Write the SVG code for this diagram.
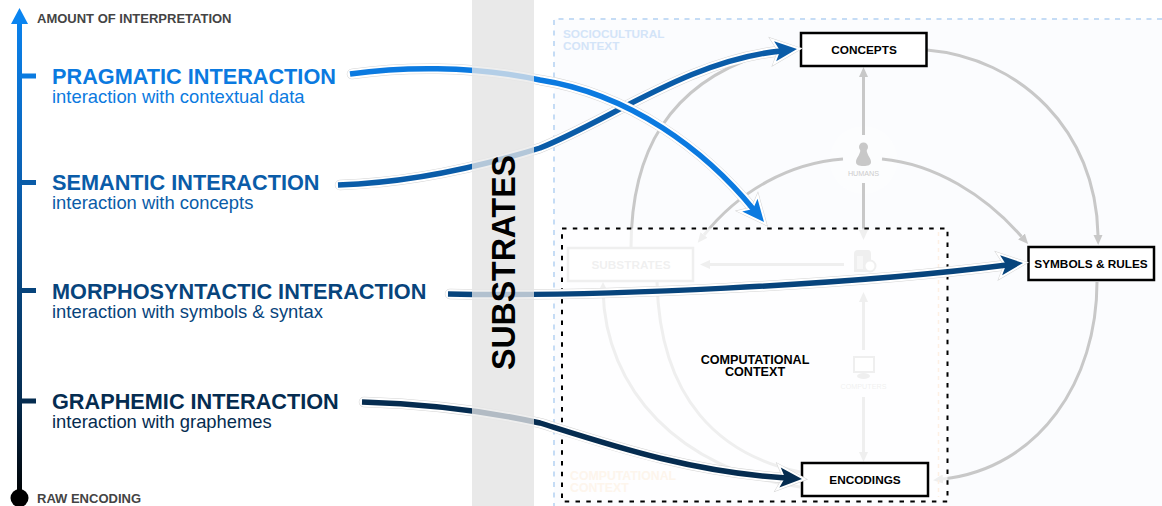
<svg xmlns="http://www.w3.org/2000/svg" xmlns:xlink="http://www.w3.org/1999/xlink" width="1162" height="506" viewBox="0 0 1162 506">
<defs>
<linearGradient id="axisGrad" gradientUnits="userSpaceOnUse" x1="0" y1="8" x2="0" y2="498">
<stop offset="0" stop-color="#0a84f0"/><stop offset="0.36" stop-color="#0a5fb0"/><stop offset="0.58" stop-color="#07447c"/><stop offset="0.8" stop-color="#052c50"/><stop offset="1" stop-color="#000"/>
</linearGradient>
<marker id="tri" viewBox="0 0 10 10" refX="0" refY="5" markerWidth="10" markerHeight="10" markerUnits="userSpaceOnUse" orient="auto"><path d="M0,0.5 L10,5 L0,9.5Z" fill="#c8c8c8"/></marker>
<path id="head" d="M0,0 L-22,-10 L-17,0 L-22,10Z"/>
</defs>
<style>
text{font-family:"Liberation Sans",Arial,sans-serif}
.title{font-size:21.7px;font-weight:700}
.sub{font-size:18.4px}
.axis{font-size:13px;font-weight:700;fill:#444}
.gray{fill:none;stroke:#c8c8c8;stroke-width:3}
.box{fill:#fff;stroke:#000;stroke-width:2.5}
.lbl{font-size:11.8px;font-weight:700;fill:#000;text-anchor:middle}
.h1{fill:none;stroke:#d4d4d4;stroke-width:10.4;stroke-linecap:round}
.h2{fill:none;stroke:#fff;stroke-width:9.4;stroke-linecap:round}
.c{fill:none;stroke-width:5.5}
.hh1{fill:#d4d4d4;stroke:#d4d4d4;stroke-width:5}
.hh2{fill:#fff;stroke:#fff;stroke-width:4}
.tiny{font-size:7.2px;text-anchor:middle}
</style>
<rect width="1162" height="506" fill="#fff"/>
<g id="axis">
<rect x="17" y="20" width="5" height="478" fill="url(#axisGrad)"/>
<path d="M19.5,8 L28,24 L11,24Z" fill="#0a84f0"/>
<rect x="20" y="73.500" width="16" height="5" fill="#0a7be0"/>
<rect x="20" y="180" width="16" height="5" fill="#0a5ca8"/>
<rect x="20" y="288" width="16" height="5" fill="#07447c"/>
<rect x="20" y="398.500" width="16" height="5" fill="#052c50"/>
<circle cx="19.500" cy="498" r="9" fill="#000"/>
<text class="axis" x="37" y="23">AMOUNT OF INTERPRETATION</text>
<text class="axis" x="37" y="503">RAW ENCODING</text>
</g>
<g id="level-pragmatic" fill="#0b7ae0"><text class="title" x="52" y="83.500">PRAGMATIC INTERACTION</text><text class="sub" x="52" y="103">interaction with contextual data</text></g>
<g id="level-semantic" fill="#0a5ca8"><text class="title" x="52" y="189.500">SEMANTIC INTERACTION</text><text class="sub" x="52" y="209">interaction with concepts</text></g>
<g id="level-morphosyntactic" fill="#07447c"><text class="title" x="52" y="298.500">MORPHOSYNTACTIC INTERACTION</text><text class="sub" x="52" y="318">interaction with symbols &amp; syntax</text></g>
<g id="level-graphemic" fill="#052c50"><text class="title" x="52" y="408.700">GRAPHEMIC INTERACTION</text><text class="sub" x="52" y="428">interaction with graphemes</text></g>

<rect id="band-base" x="472" y="0" width="62" height="506" fill="#e8e8e8"/>

<g id="sociocultural-context">
<rect x="554" y="19" width="608" height="487" fill="#fbfcfe"/>
<path d="M1162,19 H554 V506" fill="none" stroke="#c5dcf5" stroke-width="2" stroke-dasharray="5 5.500"/>
<text x="563" y="38" font-size="11.800" font-weight="700" fill="#d3e4f8">SOCIOCULTURAL</text>
<text x="563" y="50" font-size="11.800" font-weight="700" fill="#d3e4f8">CONTEXT</text>
</g>

<g id="humans">
<circle cx="863.500" cy="160" r="34" fill="#fff" fill-opacity="0.35"/>
<circle cx="863.500" cy="147" r="4.500" fill="#c8c8c8"/>
<path d="M860.500,150 H866.500 C867.500,156 871,158 871,162 C871,165 868,166 863.500,166 C859,166 856,165 856,162 C856,158 859.500,156 860.500,150Z" fill="#c8c8c8"/>
<text class="tiny" x="863.500" y="176" fill="#ccc">HUMANS</text>
</g>

<g id="connectors" fill="none">
<path class="gray" d="M927,50 C1020,58 1096,130 1098,235" marker-end="url(#tri)"/>
<path class="gray" d="M882,159 C935,164 985,195 1021.500,236.500" marker-end="url(#tri)"/>
<path class="gray" d="M863.500,135 V77" marker-end="url(#tri)"/>
<path class="gray" d="M863.500,183 V230" marker-end="url(#tri)"/>
<path class="gray" d="M631,248 C631,150 670,85 760,55"/>
<path class="gray" d="M843,159 C790,163 740,190 704,235" marker-end="url(#tri)"/>
<path class="gray" d="M844,264.500 H710" marker-end="url(#tri)"/>
<path class="gray" d="M863.500,350 V302" marker-end="url(#tri)"/>
<path class="gray" d="M863.500,397 V452" marker-end="url(#tri)"/>
<path class="gray" d="M1097,282 C1097,380 1040,468 943,479" marker-end="url(#tri)"/>
<path class="gray" d="M603,290 C605,390 680,470 800,487"/>
<path d="M603,282 L608,292 L598,292Z" fill="#c8c8c8"/>
<path class="gray" d="M657,282 C660,400 720,455 800,472"/>
</g>

<g id="substrates"><rect x="568" y="248" width="125" height="33" fill="#fff" stroke="#c8c8c8" stroke-width="2.500"/>
<text class="lbl" x="631" y="269" style="fill:#ccc">SUBSTRATES</text></g>
<g id="fuel">
<path d="M854,254 Q854,250 858,250 H868 Q871,250 871,254 V272 H854Z" fill="#c8c8c8"/>
<rect x="857" y="256" width="6" height="13" fill="#fff" fill-opacity="0.5"/>
<circle cx="870" cy="266" r="5.500" fill="#fff" stroke="#c8c8c8" stroke-width="2"/>
</g>
<g id="computers">
<rect x="854" y="357" width="20" height="15" fill="#fff" stroke="#c8c8c8" stroke-width="2"/>
<ellipse cx="863.500" cy="376" rx="6.500" ry="3" fill="#c8c8c8"/>
<text class="tiny" x="863.500" y="389" fill="#ccc">COMPUTERS</text>
</g>

<g id="computational-context">
<rect x="562" y="228.500" width="385.500" height="273" fill="#fff" fill-opacity="0.7"/>
<path d="M938.500,232 V497" fill="none" stroke="#fdf0e4" stroke-width="1.500" stroke-dasharray="4 4"/>
<text x="570" y="480" font-size="12.300" font-weight="700" fill="#fdf5ec">COMPUTATIONAL</text>
<text x="570" y="492" font-size="12.300" font-weight="700" fill="#fdf5ec">CONTEXT</text>
<rect x="562" y="228.500" width="385.500" height="273" fill="none" stroke="#000" stroke-width="2" stroke-dasharray="4.500 6.300"/>
<text x="755" y="364" text-anchor="middle" font-size="12.600" font-weight="700" fill="#000">COMPUTATIONAL</text>
<text x="755" y="376" text-anchor="middle" font-size="12.600" font-weight="700" fill="#000">CONTEXT</text>
</g>

<g id="concepts"><rect class="box" x="801" y="33" width="125.500" height="33"/><text class="lbl" x="864" y="54">CONCEPTS</text></g>
<g id="symbols-rules"><rect class="box" x="1028.500" y="247" width="125.500" height="33"/><text class="lbl" x="1091" y="268">SYMBOLS &amp; RULES</text></g>
<g id="encodings"><rect class="box" x="802" y="463" width="126" height="33"/><text class="lbl" x="865" y="484">ENCODINGS</text></g>

<g id="interaction-connectors">
<g id="conn-semantic">
<path class="h1" d="M340,185 C400,183 470,170 540,148 C610,120 690,60 781,51"/>
<path class="h2" d="M340,185 C400,183 470,170 540,148 C610,120 690,60 781,51"/>
<use xlink:href="#head" href="#head" class="hh1" transform="translate(797,49) rotate(-6)"/><use xlink:href="#head" href="#head" class="hh2" transform="translate(797,49) rotate(-6)"/>
<path class="c" stroke="#0a5ca8" d="M338,185 C400,183 470,170 540,148 C610,120 690,60 781,51"/>
<use xlink:href="#head" href="#head" fill="#0a5ca8" transform="translate(797,49) rotate(-6)"/>
</g>
<g id="conn-pragmatic">
<path class="h1" d="M352,74 C400,67 470,65 540,80 C630,94 705,150 754,210"/>
<path class="h2" d="M352,74 C400,67 470,65 540,80 C630,94 705,150 754,210"/>
<use xlink:href="#head" href="#head" class="hh1" transform="translate(764,222) rotate(50)"/><use xlink:href="#head" href="#head" class="hh2" transform="translate(764,222) rotate(50)"/>
<path class="c" stroke="#0b7ae0" d="M350,74 C400,67 470,65 540,80 C630,94 705,150 754,210"/>
<use xlink:href="#head" href="#head" fill="#0b7ae0" transform="translate(764,222) rotate(50)"/>
</g>
<g id="conn-morphosyntactic">
<path class="h1" d="M450,294 C600,297 850,285 1007,265"/>
<path class="h2" d="M450,294 C600,297 850,285 1007,265"/>
<use xlink:href="#head" href="#head" class="hh1" transform="translate(1023,263) rotate(-6)"/><use xlink:href="#head" href="#head" class="hh2" transform="translate(1023,263) rotate(-6)"/>
<path class="c" stroke="#07447c" d="M448,294 C600,297 850,285 1007,265"/>
<use xlink:href="#head" href="#head" fill="#07447c" transform="translate(1023,263) rotate(-6)"/>
</g>
<g id="conn-graphemic">
<path class="h1" d="M364,402 C430,404 490,412 540,423 C610,445 690,472 786,478"/>
<path class="h2" d="M364,402 C430,404 490,412 540,423 C610,445 690,472 786,478"/>
<use xlink:href="#head" href="#head" class="hh1" transform="translate(802,479) rotate(4)"/><use xlink:href="#head" href="#head" class="hh2" transform="translate(802,479) rotate(4)"/>
<path class="c" stroke="#052c50" d="M362,402 C430,404 490,412 540,423 C610,445 690,472 786,478"/>
<use xlink:href="#head" href="#head" fill="#052c50" transform="translate(802,479) rotate(4)"/>
</g>
</g>

<g id="substrates-band"><rect x="472" y="0" width="62" height="506" fill="#e8e8e8" fill-opacity="0.76"/>
<text transform="translate(515,370) rotate(-90)" font-size="34" font-weight="700" fill="#000" textLength="215" lengthAdjust="spacingAndGlyphs">SUBSTRATES</text></g>
</svg>
